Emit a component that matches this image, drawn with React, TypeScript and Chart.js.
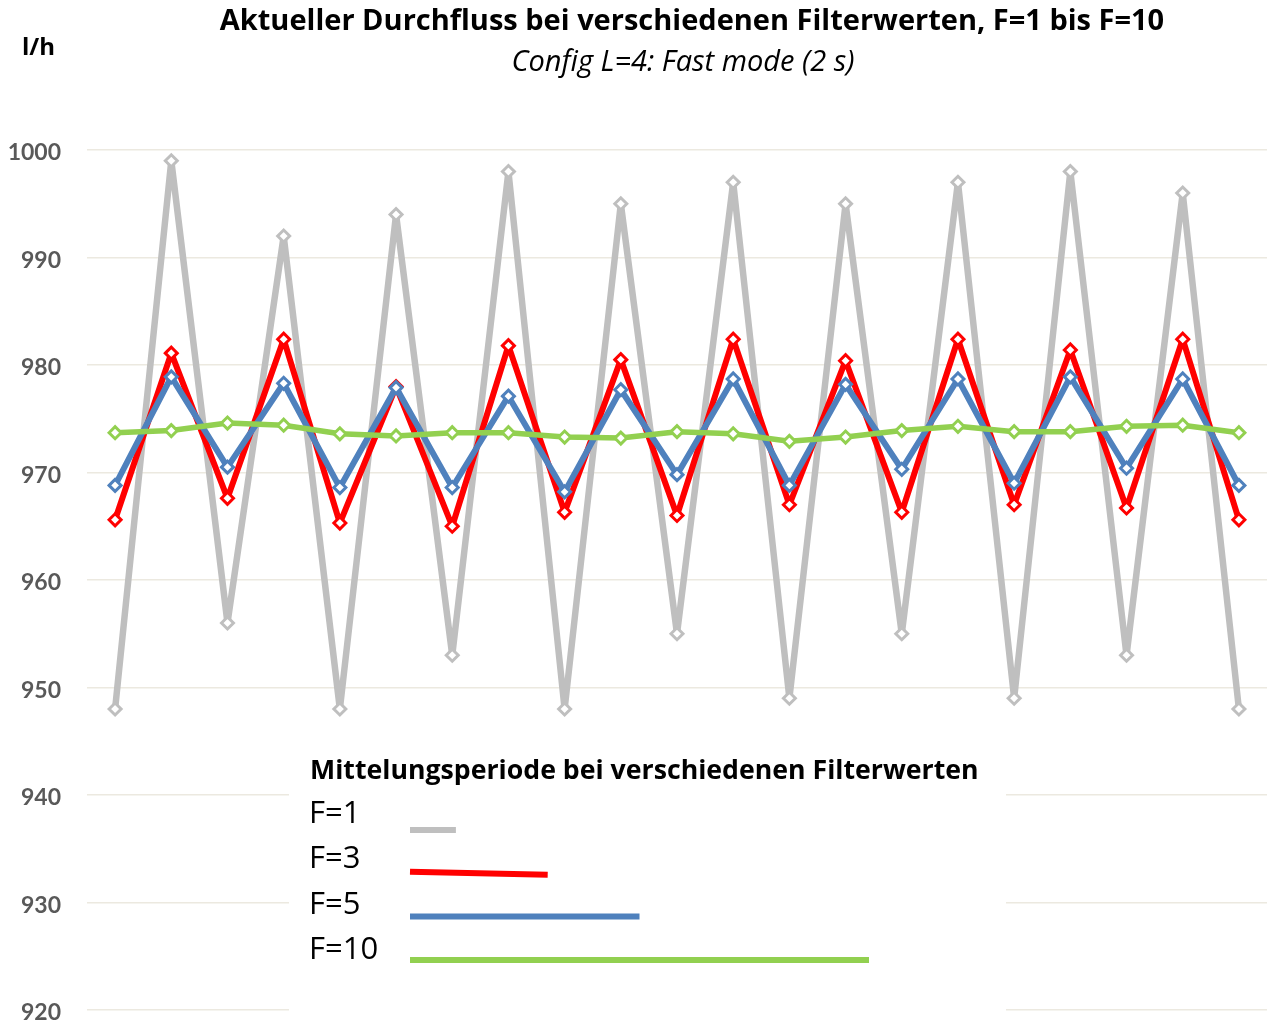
import React, { useEffect, useRef } from "react";
import { Chart, registerables } from "chart.js";

Chart.register(...registerables);

const TITLE = "Aktueller Durchfluss bei verschiedenen Filterwerten, F=1 bis F=10";
const SUBTITLE = "Config L=4: Fast mode (2 s)";
const UNIT = "l/h";
const LEGEND_TITLE = "Mittelungsperiode bei verschiedenen Filterwerten";

const categories = Array.from({ length: 21 }, (_, i) => String(i + 1));

const seriesNames = ["F=1", "F=3", "F=5", "F=10"];
const filterValues = [1, 3, 5, 10];
const seriesColors = ["#BFBFBF", "#FF0000", "#4F81BD", "#92D050"];

const f1 = [948, 999, 956, 992, 948, 994, 953, 998, 948, 995, 955, 997, 949, 995, 955, 997, 949, 998, 953, 996, 948];
const f3 = [965.6, 981.1, 967.6, 982.4, 965.3, 978.0, 965.0, 981.8, 966.3, 980.5, 966.0, 982.4, 967.0, 980.4, 966.3, 982.4, 967.0, 981.4, 966.7, 982.4, 965.6];
const f5 = [968.8, 978.9, 970.5, 978.3, 968.6, 977.9, 968.6, 977.1, 968.2, 977.7, 969.8, 978.7, 968.8, 978.2, 970.3, 978.7, 969.0, 978.9, 970.4, 978.7, 968.8];
const f10 = [973.7, 973.9, 974.6, 974.4, 973.6, 973.4, 973.7, 973.7, 973.3, 973.2, 973.8, 973.6, 972.9, 973.3, 973.9, 974.3, 973.8, 973.8, 974.3, 974.4, 973.7];

const seriesData = [f1, f3, f5, f10];

const yMin = 920;
const yMax = 1000;
const yStep = 10;

const FONT = "'Open Sans', Lato, sans-serif";
const TICK_FONT = "Lato, 'Open Sans', sans-serif";

const textPlugin = {
  id: "customText",
  beforeDatasetsDraw(chart: any) {
    const ctx = chart.ctx;
    ctx.save();
    ctx.fillStyle = "#FFFFFF";
    ctx.fillRect(289, 745, 717, 290);
    ctx.restore();
  },
  afterDraw(chart: any) {
    const ctx = chart.ctx;
    ctx.save();
    ctx.fillStyle = "#000000";
    ctx.textBaseline = "middle";
    ctx.textAlign = "center";
    ctx.font = `bold 29px ${FONT}`;
    ctx.fillText(TITLE, 692, 22);
    ctx.font = `italic 29px ${FONT}`;
    ctx.fillText(SUBTITLE, 683, 63);
    ctx.textAlign = "left";
    ctx.font = `bold 24px ${FONT}`;
    ctx.fillText(UNIT, 22, 48);

    // legend block
    ctx.font = `bold 26.7px ${FONT}`;
    ctx.fillText(LEGEND_TITLE, 310, 771);
    ctx.font = `31px ${FONT}`;
    const unitLen = 45.9;
    seriesNames.forEach((name, i) => {
      const ty = 814 + i * 45.5;
      ctx.fillStyle = "#000000";
      ctx.fillText(name, 309, ty);
      const ly = 830 + i * 43.3;
      ctx.strokeStyle = seriesColors[i];
      ctx.lineWidth = 6;
      ctx.lineCap = "butt";
      ctx.beginPath();
      ctx.moveTo(410, ly - (i === 1 ? 1.5 : 0));
      ctx.lineTo(410 + filterValues[i] * unitLen, ly + (i === 1 ? 1.5 : 0));
      ctx.stroke();
    });
    ctx.restore();
  },
};

export default function App() {
  const canvasRef = useRef<HTMLCanvasElement | null>(null);

  useEffect(() => {
    if (!canvasRef.current) return;
    const widths = [6.5, 6, 6, 5.5];
    const chart = new Chart(canvasRef.current, {
      type: "line",
      data: {
        labels: categories,
        datasets: seriesNames.map((name, i) => ({
          label: name,
          data: seriesData[i],
          borderColor: seriesColors[i],
          backgroundColor: "#FFFFFF",
          borderWidth: widths[i],
          borderJoinStyle: "round",
          pointStyle: "rectRot",
          pointRadius: 6,
          pointBorderWidth: 3,
          pointBorderColor: seriesColors[i],
          pointBackgroundColor: "#FFFFFF",
          tension: 0,
          fill: false,
          clip: false,
          order: 4 - i,
        })),
      },
      options: {
        animation: false,
        responsive: false,
        maintainAspectRatio: false,
        layout: { autoPadding: false, padding: { top: 150, bottom: 18, left: 0, right: 0 } },
        plugins: {
          legend: { display: false },
          tooltip: { enabled: false },
          title: { display: false },
        },
        scales: {
          x: {
            type: "category",
            display: false,
            offset: true,
          },
          y: {
            min: yMin,
            max: yMax,
            border: { display: false },
            grid: { color: "#ECE9E0", lineWidth: 1.5, drawTicks: false },
            ticks: {
              stepSize: yStep,
              color: "#595959",
              padding: 26,
              labelOffset: 3,
              font: { family: TICK_FONT, size: 23, weight: "bold" },
              callback: (v: any) => String(v),
            },
            afterFit(scale: any) {
              scale.width = 87;
              scale.paddingBottom = 14;
              scale.paddingTop = 14;
            },
          },
        },
      },
      plugins: [textPlugin],
    });
    return () => chart.destroy();
  }, []);

  return (
    <div style={{ position: "fixed", left: 0, top: 0, width: 1267, height: 1028, background: "#FFFFFF" }}>
      <canvas ref={canvasRef} width={1267} height={1028} style={{ display: "block" }} />
    </div>
  );
}
